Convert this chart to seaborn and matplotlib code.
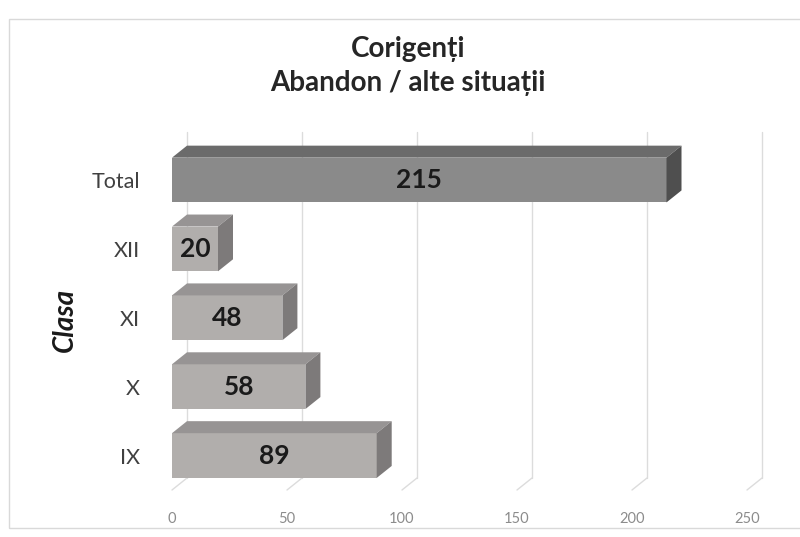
import numpy as np
import pandas as pd
import matplotlib
matplotlib.use("Agg")
import matplotlib.pyplot as plt
from matplotlib.patches import Polygon, Rectangle
import seaborn as sns

categories = ["Total", "XII", "XI", "X", "IX"]
values = [215, 20, 48, 58, 89]
xticks = [0, 50, 100, 150, 200, 250]
title = "Corigenți\nAbandon / alte situații"
ylabel = "Clasa"

front_colors = ["#8a8a8a", "#b1aeac", "#b1aeac", "#b1aeac", "#b1aeac"]
top_colors = ["#6b6b6b", "#979494", "#979494", "#979494", "#979494"]
side_colors = ["#4f4f4f", "#7d7a7a", "#7d7a7a", "#7d7a7a", "#7d7a7a"]

sns.set_theme(style="white")
plt.rcParams['font.family'] = ['Lato', 'DejaVu Sans']

W, H = 800, 537
fig = plt.figure(figsize=(8, 5.37), dpi=100)
ax = fig.add_axes([172 / W, (537 - 490) / H, 575 / W, (490 - 145.6) / H])

df = pd.DataFrame({"cat": categories, "val": values})
sns.barplot(data=df, x="val", y="cat", hue="cat", palette=front_colors,
            orient="h", width=0.65, legend=False, ax=ax, saturation=1,
            linewidth=0, zorder=3)
ax.set_xlim(0, 250)
ax.set_ylim(4.5, -0.5)
ax.set_xticks(xticks)
ax.set_xlabel("")
ax.set_ylabel("")
for s in ax.spines.values():
    s.set_visible(False)
ax.grid(False)
ax.tick_params(axis="x", length=0, pad=16, labelsize=10.5, labelcolor="#8c8c8c")
ax.tick_params(axis="y", length=0, pad=23, labelsize=15.5, labelcolor="#404040")

fig.canvas.draw()
DX, DY = 15, 12  # depth offset in pixels
inv = ax.transData.inverted()

def to_px(x, y):
    return ax.transData.transform((x, y))

def px_to_data(p):
    return inv.transform(p)

# back-plane grid lines and floor diagonals
y_bot_front = ax.transAxes.transform((0, 0))[1]
y_top_front = ax.transAxes.transform((0, 1))[1]
for t in xticks:
    xp = ax.transData.transform((t, 0))[0]
    pts_v = [(xp + DX, y_bot_front + DY), (xp + DX, y_top_front + DY + 2)]
    pts_d = [(xp, y_bot_front), (xp + DX, y_bot_front + DY)]
    for pts in (pts_v, pts_d):
        d = [px_to_data(p) for p in pts]
        ax.plot([d[0][0], d[1][0]], [d[0][1], d[1][1]], color="#dcdcdc",
                lw=1, zorder=1, clip_on=False)

# 3D faces for bars
bars = [p for p in ax.patches]
for i, p in enumerate(bars):
    x0, y0 = p.get_x(), p.get_y()
    w, h = p.get_width(), p.get_height()
    l_top = to_px(x0, y0)
    r_top = to_px(x0 + w, y0)
    r_bot = to_px(x0 + w, y0 + h)
    top_face = [l_top, r_top, (r_top[0] + DX, r_top[1] + DY), (l_top[0] + DX, l_top[1] + DY)]
    side_face = [r_top, r_bot, (r_bot[0] + DX, r_bot[1] + DY), (r_top[0] + DX, r_top[1] + DY)]
    ax.add_patch(Polygon([px_to_data(q) for q in top_face], closed=True,
                         facecolor=top_colors[i], edgecolor="none", zorder=3, clip_on=False))
    ax.add_patch(Polygon([px_to_data(q) for q in side_face], closed=True,
                         facecolor=side_colors[i], edgecolor="none", zorder=3, clip_on=False))
    ax.text(x0 + w / 2, y0 + h / 2, str(values[i]), ha="center", va="center",
            fontsize=19, fontweight="bold", color="#1a1a1a", zorder=5)

fig.text(408 / W, 1 - 66 / H, title, ha="center", va="center", fontsize=20,
         fontweight="bold", color="#262626", linespacing=1.35)
fig.text(65 / W, 1 - 320 / H, ylabel, ha="center", va="center", rotation=90,
         fontsize=20, fontweight="bold", fontstyle="italic", color="#1a1a1a")

fig.add_artist(Rectangle((9 / W, 1 - 528 / H), 800 / W, (528 - 19) / H,
                         transform=fig.transFigure, fill=False,
                         edgecolor="#d9d9d9", lw=1))

fig.savefig("out.png", dpi=100)
